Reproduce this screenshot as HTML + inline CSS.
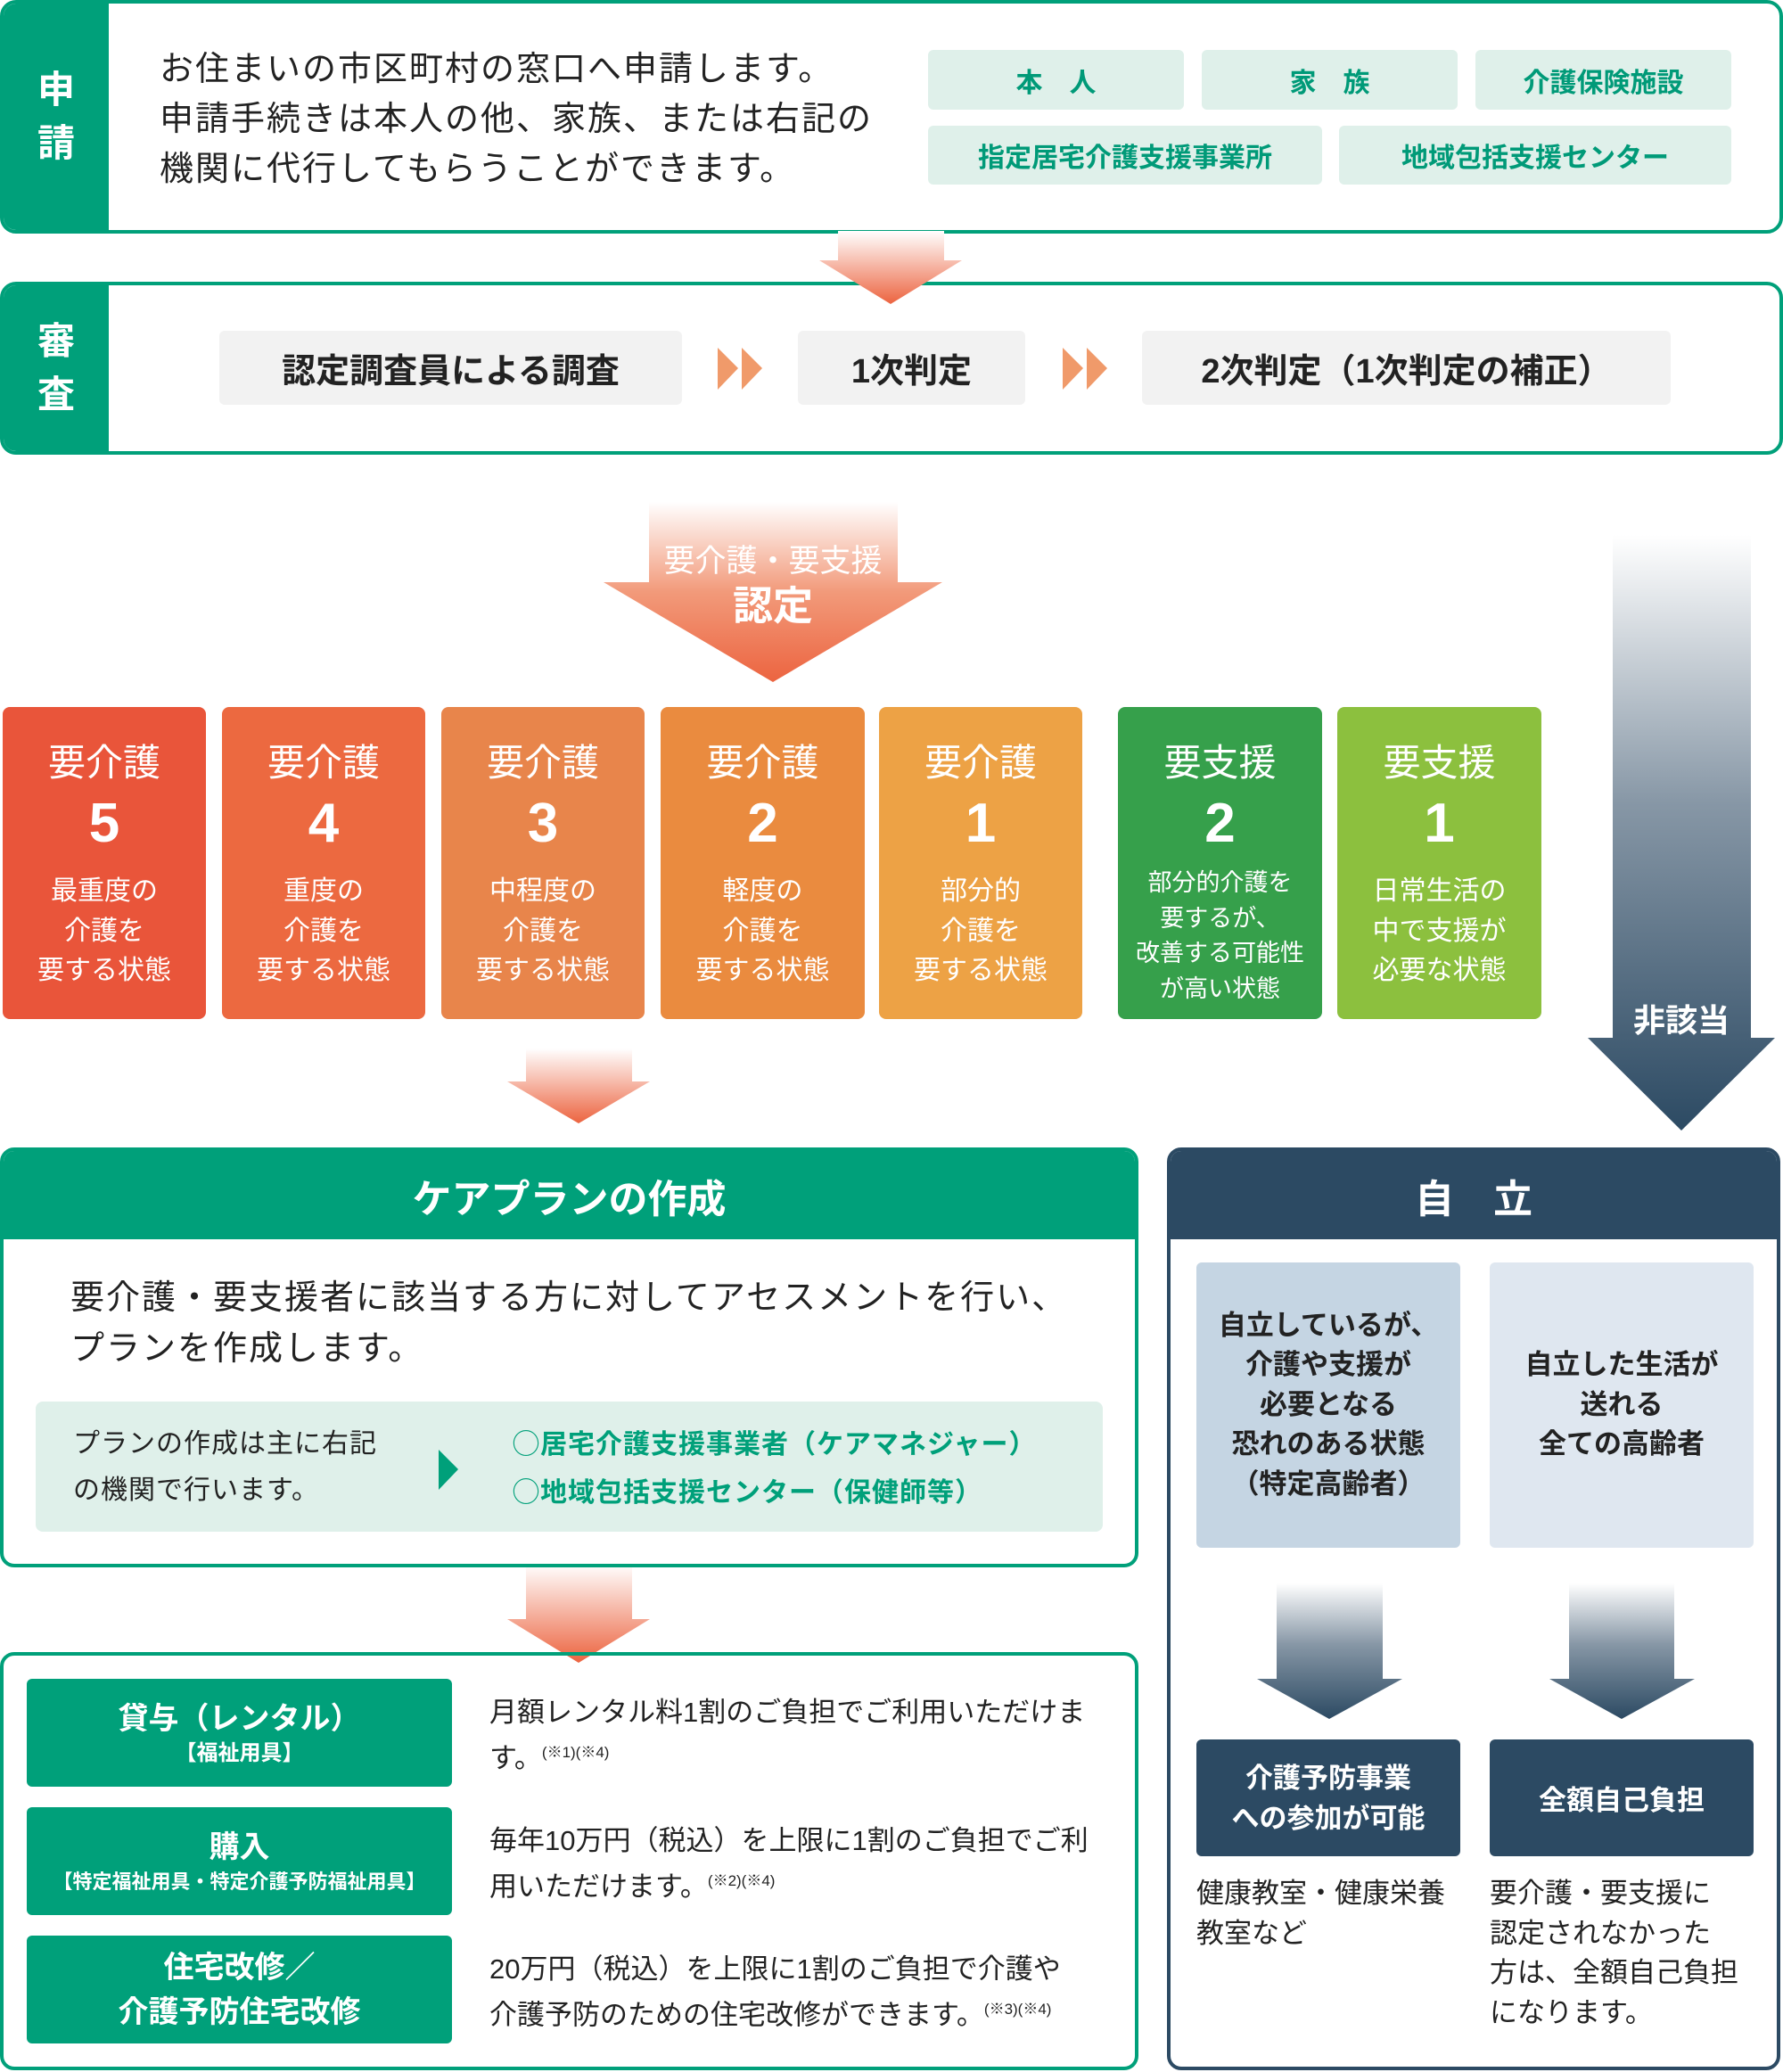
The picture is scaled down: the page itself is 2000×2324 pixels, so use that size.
<!DOCTYPE html>
<html><head><meta charset="utf-8"><style>
*{margin:0;padding:0;box-sizing:border-box}
body{width:2000px;height:2324px;position:relative;background:#fff;font-family:"Liberation Sans","Noto Sans CJK JP",sans-serif;color:#222;overflow:hidden}
.a{position:absolute}
.c{display:flex;align-items:center;justify-content:center;text-align:center}
.tag{background:#dff0ea;color:#009a78;font-weight:bold;font-size:30px;border-radius:6px}
.gray{background:#f2f2f2;font-weight:bold;font-size:38px;border-radius:6px;color:#222}
.lv{border-radius:8px;color:#fff;text-align:center}
.lv .t{position:absolute;left:0;right:0;top:38px;font-size:42px;line-height:50px}
.lv .n{position:absolute;left:0;right:0;top:96px;font-size:62px;line-height:70px;font-weight:bold}
.lv .d{position:absolute;left:0;right:0;top:185px;font-size:30px;line-height:44.5px}
.gb{background:#00a07a;color:#fff;font-weight:bold;border-radius:6px}
.nv{background:#2c4a63;color:#fff;font-weight:bold;border-radius:6px}
</style></head><body>

<div class="a" style="left:0;top:0;width:2000px;height:262px;border:4px solid #00a07a;border-radius:18px;overflow:hidden">
 <div class="a c" style="left:0;top:0;width:118px;height:100%;background:#00a07a;color:#fff;font-weight:bold;font-size:42px;line-height:60px;flex-direction:column">申<br>請</div>
</div>
<div class="a" style="left:179px;top:50px;font-size:38px;line-height:56px;color:#222;letter-spacing:2px">お住まいの市区町村の窓口へ申請します。<br>申請手続きは本人の他、家族、または右記の<br>機関に代行してもらうことができます。</div>
<div class="a c tag" style="left:1041px;top:56px;width:287px;height:67px">本　人</div>
<div class="a c tag" style="left:1348px;top:56px;width:287px;height:67px">家　族</div>
<div class="a c tag" style="left:1655px;top:56px;width:287px;height:67px">介護保険施設</div>
<div class="a c tag" style="left:1041px;top:141px;width:442px;height:66px">指定居宅介護支援事業所</div>
<div class="a c tag" style="left:1502px;top:141px;width:440px;height:66px">地域包括支援センター</div>

<div class="a" style="left:0;top:316px;width:2000px;height:194px;border:4px solid #00a07a;border-radius:18px;overflow:hidden">
 <div class="a c" style="left:0;top:0;width:118px;height:100%;background:#00a07a;color:#fff;font-weight:bold;font-size:42px;line-height:60px;flex-direction:column">審<br>査</div>
</div>
<div class="a c gray" style="left:246px;top:371px;width:519px;height:83px">認定調査員による調査</div>
<div class="a c gray" style="left:895px;top:371px;width:255px;height:83px">1次判定</div>
<div class="a c gray" style="left:1281px;top:371px;width:593px;height:83px">2次判定（1次判定の補正）</div>
<svg class="a" style="left:0;top:0" width="2000" height="2324">
 <defs>
  <linearGradient id="og" x1="0" y1="0" x2="0" y2="1"><stop offset="0" stop-color="#fff"/><stop offset="1" stop-color="#ec6440"/></linearGradient>
  <linearGradient id="ng" x1="0" y1="0" x2="0" y2="1"><stop offset="0" stop-color="#fff"/><stop offset="0.45" stop-color="#8797a6"/><stop offset="1" stop-color="#2c4a63"/></linearGradient>
  <linearGradient id="og2" x1="0" y1="0" x2="0" y2="1"><stop offset="0" stop-color="#fff"/><stop offset="0.5" stop-color="#f29a7a"/><stop offset="1" stop-color="#ec6440"/></linearGradient>
 </defs>
 <polygon points="805,390 828,413 805,437" fill="#f09a6a"/><polygon points="832,390 855,413 832,437" fill="#f09a6a"/>
 <polygon points="1192,390 1215,413 1192,437" fill="#f09a6a"/><polygon points="1219,390 1242,413 1219,437" fill="#f09a6a"/>
 <polygon points="940,259 1059,259 1059,292 1079,292 999,341 919,292 940,292" fill="url(#og)"/>
 <polygon points="728,563 1007,563 1007,653 1057,653 867,765 677,653 728,653" fill="url(#og2)"/>
 <polygon points="590,1176 709,1176 709,1213 729,1213 649,1260 569,1213 590,1213" fill="url(#og)"/>
 <polygon points="590,1754 709,1754 709,1816 729,1816 649,1865 569,1816 590,1816" fill="url(#og)"/>
 <polygon points="1809,600 1964,600 1964,1164 1991,1164 1886,1268 1781,1164 1809,1164" fill="url(#ng)"/>
 <polygon points="1432,1776 1551,1776 1551,1883 1573,1883 1491,1928 1410,1883 1432,1883" fill="url(#ng)"/>
 <polygon points="1760,1776 1878,1776 1878,1883 1901,1883 1819,1928 1738,1883 1760,1883" fill="url(#ng)"/>
</svg>
<div class="a" style="left:667px;top:607px;width:400px;text-align:center;color:#fff;font-size:35px;line-height:46px;white-space:nowrap">要介護・要支援</div>
<div class="a" style="left:667px;top:652px;width:400px;text-align:center;color:#fff;font-size:45px;line-height:56px;font-weight:bold">認定</div>
<div class="a" style="left:1781px;top:1122px;width:210px;text-align:center;color:#fff;font-size:36px;line-height:46px;font-weight:bold">非該当</div>

<div class="a lv" style="left:3px;top:793px;width:228px;height:350px;background:#e9553a"><div class="t">要介護</div><div class="n">5</div><div class="d">最重度の<br>介護を<br>要する状態</div></div>
<div class="a lv" style="left:249px;top:793px;width:228px;height:350px;background:#ec6940"><div class="t">要介護</div><div class="n">4</div><div class="d">重度の<br>介護を<br>要する状態</div></div>
<div class="a lv" style="left:495px;top:793px;width:228px;height:350px;background:#e8854b"><div class="t">要介護</div><div class="n">3</div><div class="d">中程度の<br>介護を<br>要する状態</div></div>
<div class="a lv" style="left:741px;top:793px;width:229px;height:350px;background:#ea8b3f"><div class="t">要介護</div><div class="n">2</div><div class="d">軽度の<br>介護を<br>要する状態</div></div>
<div class="a lv" style="left:986px;top:793px;width:228px;height:350px;background:#eda245"><div class="t">要介護</div><div class="n">1</div><div class="d">部分的<br>介護を<br>要する状態</div></div>
<div class="a lv" style="left:1254px;top:793px;width:229px;height:350px;background:#36a04b"><div class="t">要支援</div><div class="n">2</div><div class="d" style="top:178px;font-size:27px;line-height:39.5px">部分的介護を<br>要するが、<br>改善する可能性<br>が高い状態</div></div>
<div class="a lv" style="left:1500px;top:793px;width:229px;height:350px;background:#8cc03e"><div class="t">要支援</div><div class="n">1</div><div class="d">日常生活の<br>中で支援が<br>必要な状態</div></div>

<div class="a" style="left:0;top:1287px;width:1277px;height:471px;border:4px solid #00a07a;border-radius:16px;overflow:hidden">
 <div class="a c" style="left:0;top:0;width:100%;height:99px;background:#00a07a;color:#fff;font-weight:bold;font-size:44px">ケアプランの作成</div>
</div>
<div class="a" style="left:79px;top:1428px;font-size:38px;line-height:57px;letter-spacing:2px">要介護・要支援者に該当する方に対してアセスメントを行い、<br>プランを作成します。</div>
<div class="a" style="left:40px;top:1572px;width:1197px;height:146px;background:#dff0ea;border-radius:8px"></div>
<div class="a" style="left:82px;top:1594px;font-size:30px;line-height:52px;letter-spacing:1px">プランの作成は主に右記<br>の機関で行います。</div>
<svg class="a" style="left:492px;top:1626px" width="22" height="45"><polygon points="0,0 22,22 0,45" fill="#00a07a"/></svg>
<div class="a" style="left:575px;top:1594px;font-size:30px;line-height:54px;color:#00a07a;font-weight:bold;letter-spacing:1px">◯居宅介護支援事業者（ケアマネジャー）<br>◯地域包括支援センター（保健師等）</div>

<div class="a" style="left:0;top:1853px;width:1277px;height:469px;border:4px solid #00a07a;border-radius:16px"></div>
<div class="a gb c" style="left:30px;top:1883px;width:477px;height:121px;flex-direction:column"><div style="font-size:34px;line-height:46px">貸与（レンタル）</div><div style="font-size:24px;line-height:32px">【福祉用具】</div></div>
<div class="a gb c" style="left:30px;top:2027px;width:477px;height:121px;flex-direction:column"><div style="font-size:34px;line-height:46px">購入</div><div style="font-size:22px;line-height:32px">【特定福祉用具・特定介護予防福祉用具】</div></div>
<div class="a gb c" style="left:30px;top:2171px;width:477px;height:121px;flex-direction:column;font-size:34px;line-height:50px">住宅改修／<br>介護予防住宅改修</div>
<div class="a" style="left:549px;top:1898px;font-size:31px;line-height:45px;width:700px">月額レンタル料1割のご負担でご利用いただけます。<sup style="font-size:17px">(※1)(※4)</sup></div>
<div class="a" style="left:549px;top:2042px;font-size:31px;line-height:45px;width:700px">毎年10万円（税込）を上限に1割のご負担でご利用いただけます。<sup style="font-size:17px">(※2)(※4)</sup></div>
<div class="a" style="left:549px;top:2186px;font-size:31px;line-height:45px;width:720px">20万円（税込）を上限に1割のご負担で介護や<br>介護予防のための住宅改修ができます。<sup style="font-size:17px">(※3)(※4)</sup></div>

<div class="a" style="left:1309px;top:1287px;width:688px;height:1035px;border:4px solid #2c4a63;border-radius:16px;overflow:hidden">
 <div class="a c" style="left:0;top:0;width:100%;height:99px;background:#2c4a63;color:#fff;font-weight:bold;font-size:44px">自　立</div>
</div>
<div class="a c" style="left:1342px;top:1416px;width:296px;height:320px;background:#c5d5e3;border-radius:6px;font-weight:bold;font-size:31px;line-height:44.5px">自立しているが、<br>介護や支援が<br>必要となる<br>恐れのある状態<br>（特定高齢者）</div>
<div class="a c" style="left:1671px;top:1416px;width:296px;height:320px;background:#dfe7f0;border-radius:6px;font-weight:bold;font-size:31px;line-height:44.5px">自立した生活が<br>送れる<br>全ての高齢者</div>
<div class="a nv c" style="left:1342px;top:1951px;width:296px;height:131px;font-size:31px;line-height:45px">介護予防事業<br>への参加が可能</div>
<div class="a nv c" style="left:1671px;top:1951px;width:296px;height:131px;font-size:31px">全額自己負担</div>
<div class="a" style="left:1342px;top:2102px;font-size:31px;line-height:44.5px">健康教室・健康栄養<br>教室など</div>
<div class="a" style="left:1671px;top:2102px;font-size:31px;line-height:44.5px">要介護・要支援に<br>認定されなかった<br>方は、全額自己負担<br>になります。</div>
</body></html>
